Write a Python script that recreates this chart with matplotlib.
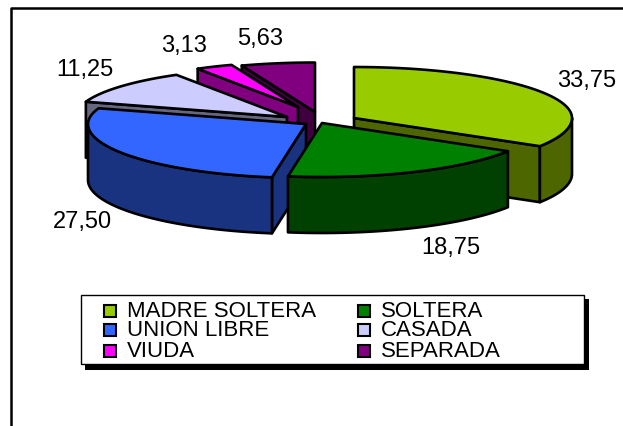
import matplotlib

matplotlib.use('Agg')
import matplotlib.pyplot as plt
import numpy as np
from matplotlib.patches import Polygon, Rectangle

# --- DATA ---
categories = ['MADRE SOLTERA', 'SOLTERA', 'UNION LIBRE', 'CASADA', 'VIUDA', 'SEPARADA']
values = [33.75, 18.75, 27.50, 11.25, 3.13, 5.63]

# --- STYLE ---
top_colors = ['#99CC00', '#008000', '#3366FF', '#CCCCFF', '#FF00FF', '#800080']
side_colors = ['#4D6600', '#004000', '#1A3380', '#666680', '#800080', '#400040']
apex_x = [354, 322, 306, 287, 298, 315]
apex_y = [119, 124, 125, 118, 108, 113]
radius_scale = [1.0, 1.0, 1.0, 0.97, 0.88, 0.97]
label_x = [587, 451, 82, 85, 184, 260]
label_y = [81, 248, 222, 70, 46, 39]
draw_order = [5, 4, 3, 2, 0, 1]

RX = 218
RY_FRONT = 54  # the near half of the ellipse looks a bit deeper than the far half
RY_BACK = 51
DEPTH = 56
EDGE = 1.9
FONT = 'Liberation Sans'


def rim(i, angles):
    """Rim points of one slice, angles are degrees clockwise from 12 o'clock."""
    a = np.deg2rad(angles)
    ry = np.where(np.cos(a) < 0, RY_FRONT, RY_BACK)
    x = apex_x[i] + RX * radius_scale[i] * np.sin(a)
    y = apex_y[i] - ry * radius_scale[i] * np.cos(a)
    return np.column_stack([x, y])


def face(ax, pts, color, z):
    ax.add_patch(Polygon(pts, closed=True, facecolor=color, edgecolor='black',
                         linewidth=EDGE, joinstyle='round', zorder=z))


fig = plt.figure(figsize=(6.23, 4.27), dpi=100)
ax = fig.add_axes([0, 0, 1, 1])
ax.set_xlim(0, 623)
ax.set_ylim(427, 0)
ax.axis('off')

# outer frame, only left and top are inside the picture
ax.plot([11, 11, 623], [427, 9, 9], color='black', linewidth=1.8, zorder=1)

# --- PIE ---
edges = np.concatenate([[0], np.cumsum(values)]) / np.sum(values) * 360
z = 2
for i in draw_order:
    start, end = edges[i], edges[i + 1]
    apex = np.array([apex_x[i], apex_y[i]])
    drop = np.array([0, DEPTH])

    # radial faces that look towards the viewer
    for ang, visible in [(start, np.sin(np.deg2rad(start)) < -1e-6),
                         (end, np.sin(np.deg2rad(end)) > 1e-6)]:
        if visible:
            p = rim(i, np.array([ang]))[0]
            face(ax, [apex, p, p + drop, apex + drop], side_colors[i], z)
            z += 1

    # outer wall, only the front half of the ellipse
    lo, hi = max(start, 90), min(end, 270)
    if lo < hi:
        arc = rim(i, np.linspace(lo, hi, 60))
        face(ax, np.vstack([arc, (arc + drop)[::-1]]), side_colors[i], z)
        z += 1

    arc = rim(i, np.linspace(start, end, 80))
    face(ax, np.vstack([apex, arc]), top_colors[i], z)
    z += 1

for i, v in enumerate(values):
    ax.text(label_x[i], label_y[i], f'{v:.2f}'.replace('.', ','), ha='center', va='center',
            fontsize=17, family=FONT, color='black', zorder=50)

# --- LEGEND ---
ax.add_patch(Rectangle((85, 300), 504, 71, facecolor='black', edgecolor='none', zorder=60))
ax.add_patch(Rectangle((81, 296), 503, 69, facecolor='white', edgecolor='black',
                       linewidth=1.0, zorder=61))
row_y = [312, 331, 352]
col_marker = [104, 358]
col_text = [127, 381]
for i, name in enumerate(categories):
    col = i % 2
    row = i // 2
    ax.add_patch(Rectangle((col_marker[col], row_y[row] - 6), 12, 12, facecolor=top_colors[i],
                           edgecolor='black', linewidth=1.5, zorder=62))
    ax.text(col_text[col], row_y[row], name, ha='left', va='center', fontsize=16,
            family=FONT, color='black', zorder=62)

fig.savefig('out.png', dpi=100)
